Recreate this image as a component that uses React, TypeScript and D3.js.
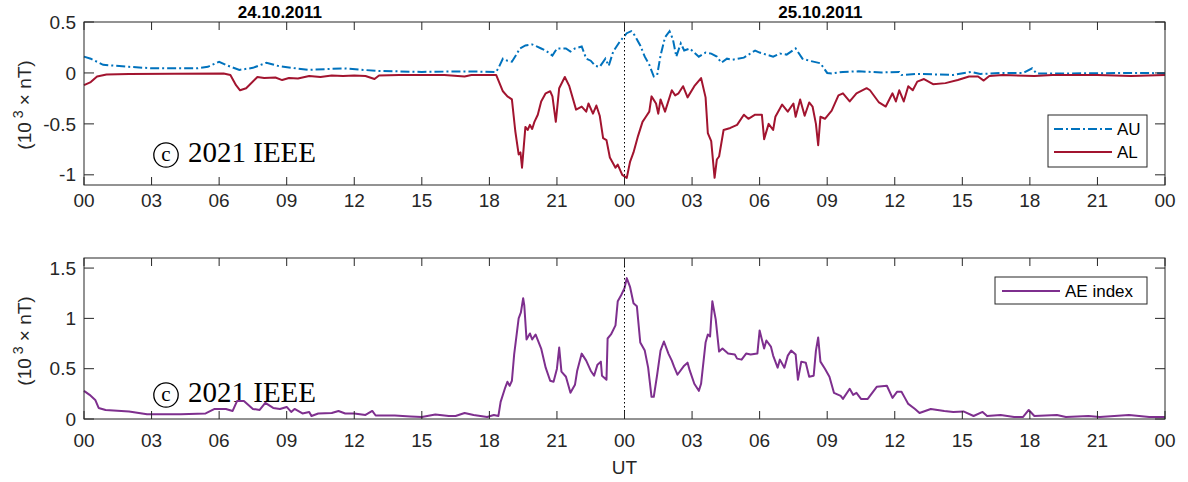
import * as d3 from 'd3';
import React from 'react';

// hours since 24.10.2011 00 UT, values in 10^3 nT
const auHours = [0, 0.3, 0.85, 2, 3, 5, 5.5, 6, 6.4, 6.9, 7.5, 8.1, 8.6, 9.2, 10, 11.5, 13, 15, 16, 17, 18.3, 18.4, 18.6, 18.8, 19, 19.2, 19.35, 19.6, 19.9, 20.1, 20.3, 20.5, 20.8, 21, 21.4, 21.6, 21.8, 22.1, 22.3, 22.5, 22.7, 22.9, 23.15, 23.3, 23.5, 23.8, 24.1, 24.3, 24.45, 24.7, 24.9, 25.1, 25.3, 25.45, 25.6, 25.8, 26, 26.15, 26.3, 26.5, 26.65, 26.9, 27.1, 27.3, 27.6, 27.85, 28.1, 28.3, 28.55, 28.8, 29.3, 29.8, 30, 30.3, 30.6, 30.9, 31.2, 31.6, 31.9, 32.2, 32.7, 33, 33.2, 33.7, 34.4, 35.4, 36.2, 36.3, 37, 38.6, 39.4, 39.8, 40.8, 41.7, 42.1, 42.3, 43.8, 46.7, 48];
const auValues = [0.16, 0.14, 0.08, 0.06, 0.046, 0.045, 0.06, 0.11, 0.07, 0.03, 0.05, 0.1, 0.07, 0.05, 0.03, 0.045, 0.02, 0.01, 0.013, 0.015, 0.01, 0.046, 0.14, 0.12, 0.11, 0.18, 0.24, 0.27, 0.28, 0.26, 0.24, 0.22, 0.17, 0.24, 0.24, 0.21, 0.24, 0.26, 0.14, 0.12, 0.07, 0.06, 0.14, 0.07, 0.21, 0.31, 0.39, 0.41, 0.37, 0.27, 0.16, 0.08, -0.035, -0.02, 0.17, 0.35, 0.41, 0.33, 0.16, 0.29, 0.22, 0.24, 0.2, 0.16, 0.2, 0.19, 0.16, 0.1, 0.14, 0.13, 0.15, 0.22, 0.2, 0.18, 0.16, 0.19, 0.18, 0.24, 0.14, 0.12, 0.095, 0, -0.005, 0.01, 0.016, 0.005, 0.01, -0.02, -0.01, -0.02, 0.01, -0.01, 0, 0, 0.045, -0.005, -0.005, 0, -0.003];

const alHours = [0, 0.3, 0.58, 1, 2, 4, 6.2, 6.5, 6.75, 6.93, 7.2, 7.7, 8, 8.5, 8.8, 9.1, 9.5, 10, 10.5, 11, 11.5, 12, 12.5, 12.9, 13.1, 14, 16, 16.9, 17.2, 18.3, 18.6, 18.8, 19, 19.15, 19.3, 19.38, 19.45, 19.6, 19.7, 19.8, 19.9, 20, 20.15, 20.3, 20.5, 20.7, 20.8, 20.95, 21.1, 21.35, 21.55, 21.85, 22.1, 22.3, 22.4, 22.6, 22.75, 22.9, 23.05, 23.2, 23.35, 23.6, 23.7, 23.9, 24.1, 24.25, 24.4, 24.6, 24.8, 24.95, 25.1, 25.2, 25.4, 25.5, 25.6, 25.8, 26.1, 26.25, 26.4, 26.6, 26.8, 27.1, 27.4, 27.6, 27.7, 27.85, 28, 28.1, 28.2, 28.4, 28.7, 29, 29.3, 29.5, 29.8, 30.1, 30.2, 30.4, 30.6, 30.7, 31, 31.25, 31.5, 31.6, 31.8, 32, 32.2, 32.35, 32.5, 32.6, 32.7, 32.9, 33.2, 33.5, 33.7, 34, 34.3, 34.75, 34.9, 35.3, 35.6, 35.9, 36.05, 36.2, 36.4, 36.6, 36.8, 37, 37.3, 37.7, 38.25, 38.8, 39.3, 39.7, 39.95, 40.2, 40.8, 42.2, 43, 45, 46.5, 48];
const alValues = [-0.12, -0.09, -0.035, -0.015, -0.01, -0.008, -0.005, -0.02, -0.12, -0.17, -0.15, -0.04, -0.05, -0.045, -0.07, -0.05, -0.055, -0.03, -0.04, -0.025, -0.03, -0.025, -0.03, -0.06, -0.025, -0.02, -0.02, -0.035, -0.02, -0.02, -0.18, -0.23, -0.26, -0.57, -0.8, -0.78, -0.93, -0.53, -0.56, -0.51, -0.55, -0.48, -0.41, -0.28, -0.2, -0.18, -0.23, -0.48, -0.15, -0.04, -0.13, -0.36, -0.33, -0.38, -0.3, -0.4, -0.32, -0.42, -0.64, -0.66, -0.83, -0.93, -0.9, -1.0, -1.03, -0.87, -0.78, -0.62, -0.48, -0.43, -0.38, -0.23, -0.3, -0.4, -0.26, -0.38, -0.17, -0.22, -0.2, -0.13, -0.24, -0.13, -0.05, -0.24, -0.59, -0.67, -1.03, -0.85, -0.82, -0.56, -0.54, -0.51, -0.41, -0.45, -0.41, -0.41, -0.65, -0.5, -0.56, -0.43, -0.31, -0.38, -0.3, -0.43, -0.26, -0.42, -0.29, -0.33, -0.5, -0.71, -0.43, -0.45, -0.37, -0.22, -0.2, -0.28, -0.2, -0.15, -0.17, -0.29, -0.33, -0.2, -0.28, -0.17, -0.28, -0.13, -0.17, -0.085, -0.06, -0.11, -0.1, -0.07, -0.035, -0.035, -0.075, -0.03, -0.02, -0.03, -0.02, -0.02, -0.03, -0.02];

const aeHours = [0, 0.25, 0.5, 0.65, 0.96, 2, 2.8, 4.3, 5.4, 5.8, 6, 6.3, 6.6, 6.8, 7.1, 7.5, 7.8, 8.05, 8.4, 8.7, 9, 9.2, 9.35, 9.7, 10, 10.1, 10.4, 11, 11.3, 11.6, 12, 12.5, 12.8, 12.95, 13.8, 14.5, 15, 15.6, 16.2, 16.5, 16.9, 17.3, 17.9, 18.2, 18.4, 18.5, 18.7, 18.8, 18.9, 19, 19.1, 19.3, 19.4, 19.5, 19.55, 19.65, 19.8, 19.9, 20.05, 20.3, 20.5, 20.7, 20.85, 21, 21.1, 21.2, 21.4, 21.6, 21.8, 21.9, 22.1, 22.3, 22.5, 22.65, 22.8, 22.95, 23, 23.2, 23.25, 23.4, 23.6, 23.7, 23.85, 24, 24.1, 24.25, 24.4, 24.55, 24.7, 24.9, 25.05, 25.2, 25.3, 25.45, 25.6, 25.75, 25.95, 26.1, 26.2, 26.35, 26.65, 26.8, 26.9, 27.1, 27.3, 27.4, 27.6, 27.7, 27.8, 27.9, 28.05, 28.2, 28.35, 28.6, 28.9, 29, 29.2, 29.4, 29.6, 29.9, 30, 30.2, 30.3, 30.5, 30.6, 30.8, 30.9, 31.1, 31.25, 31.4, 31.6, 31.7, 31.85, 32.05, 32.2, 32.4, 32.5, 32.6, 32.7, 32.9, 33.1, 33.3, 33.6, 33.7, 34, 34.15, 34.3, 34.5, 34.8, 35.2, 35.65, 35.9, 36.1, 36.3, 36.45, 36.6, 36.9, 37.1, 37.6, 38.2, 38.6, 39.05, 39.5, 39.9, 40.1, 40.7, 41.3, 41.7, 41.95, 42.2, 43.2, 43.6, 44.6, 45.1, 46.4, 47.3, 48];
const aeValues = [0.28, 0.24, 0.19, 0.11, 0.09, 0.075, 0.047, 0.047, 0.055, 0.1, 0.1, 0.1, 0.08, 0.18, 0.18, 0.1, 0.09, 0.16, 0.11, 0.1, 0.12, 0.07, 0.1, 0.055, 0.07, 0.03, 0.055, 0.06, 0.08, 0.055, 0.055, 0.04, 0.08, 0.035, 0.035, 0.025, 0.02, 0.045, 0.03, 0.03, 0.06, 0.04, 0.02, 0.04, 0.03, 0.17, 0.31, 0.37, 0.33, 0.38, 0.64, 1.0, 1.06, 1.2, 1.13, 0.79, 0.85, 0.79, 0.84, 0.7, 0.51, 0.38, 0.37, 0.5, 0.71, 0.47, 0.42, 0.26, 0.34, 0.48, 0.65, 0.58, 0.48, 0.43, 0.54, 0.57, 0.43, 0.39, 0.8, 0.84, 0.93, 1.17, 1.23, 1.3, 1.4, 1.31, 1.15, 1.12, 0.76, 0.68, 0.51, 0.22, 0.22, 0.44, 0.68, 0.77, 0.65, 0.58, 0.52, 0.44, 0.53, 0.56, 0.48, 0.35, 0.28, 0.35, 0.76, 0.84, 0.82, 1.17, 0.99, 0.67, 0.7, 0.65, 0.64, 0.6, 0.59, 0.65, 0.64, 0.65, 0.88, 0.7, 0.78, 0.72, 0.63, 0.51, 0.59, 0.51, 0.63, 0.68, 0.64, 0.39, 0.57, 0.56, 0.42, 0.43, 0.68, 0.81, 0.57, 0.5, 0.42, 0.26, 0.23, 0.2, 0.3, 0.24, 0.26, 0.2, 0.2, 0.32, 0.33, 0.21, 0.27, 0.27, 0.21, 0.15, 0.1, 0.06, 0.1, 0.08, 0.07, 0.075, 0.03, 0.07, 0.03, 0.04, 0.02, 0.02, 0.09, 0.03, 0.04, 0.02, 0.03, 0.02, 0.04, 0.02, 0.02];

const xTicks = [0, 3, 6, 9, 12, 15, 18, 21, 24, 27, 30, 33, 36, 39, 42, 45, 48];
const xTickLabels = ['00', '03', '06', '09', '12', '15', '18', '21', '00', '03', '06', '09', '12', '15', '18', '21', '00'];
const topYTicks = [-1, -0.5, 0, 0.5];
const bottomYTicks = [0, 0.5, 1, 1.5];
const dateLabels = ['24.10.2011', '25.10.2011'];
const dateLabelHours = [8.7, 32.7];

const AXIS = '#262626';
const FONT = '"Liberation Sans", Arial, Helvetica, sans-serif';
const SERIF = '"Liberation Serif", "DejaVu Serif", serif';
const AU_COLOR = '#0072BD';
const AL_COLOR = '#A2142F';
const AE_COLOR = '#7E2F8E';

const left = 84;
const right = 1165;

const x = d3.scaleLinear().domain([0, 48]).range([left, right]);

const zip = (hs: number[], vs: number[]) => hs.map((h, i) => [h, vs[i]] as [number, number]);

interface PanelProps {
  top: number;
  bottom: number;
  y: d3.ScaleLinear<number, number>;
  yTicks: number[];
  labelBaseline: number;
  children?: React.ReactNode;
}

const YLabel = ({ cx, cy }: { cx: number; cy: number }) => (
  <text
    transform={`translate(${cx},${cy}) rotate(-90)`}
    textAnchor="middle"
    fontFamily={FONT}
    fontSize={19}
    fill={AXIS}
  >
    (10
    <tspan dy={-8} fontSize={14}>
      {' 3'}
    </tspan>
    <tspan dy={8}>{' \u00d7 nT)'}</tspan>
  </text>
);

const Panel = ({ top, bottom, y, yTicks, labelBaseline, children }: PanelProps) => (
  <g>
    <rect x={left} y={top} width={right - left} height={bottom - top} fill="white" />
    {children}
    <line x1={x(24)} x2={x(24)} y1={top} y2={bottom} stroke="black" strokeWidth={1} strokeDasharray="1.5,2.5" />
    <rect x={left} y={top} width={right - left} height={bottom - top} fill="none" stroke={AXIS} strokeWidth={1} />
    {xTicks.map((t, i) => (
      <g key={`xt-${i}`}>
        <line x1={x(t)} x2={x(t)} y1={bottom} y2={bottom - 8} stroke={AXIS} />
        <line x1={x(t)} x2={x(t)} y1={top} y2={top + 8} stroke={AXIS} />
        <text x={x(t)} y={labelBaseline} textAnchor="middle" fontFamily={FONT} fontSize={19} fill={AXIS}>
          {xTickLabels[i]}
        </text>
      </g>
    ))}
    {yTicks.map((t) => (
      <g key={`yt-${t}`}>
        <line x1={left} x2={left + 10} y1={y(t)} y2={y(t)} stroke={AXIS} />
        <line x1={right} x2={right - 10} y1={y(t)} y2={y(t)} stroke={AXIS} />
        <text x={left - 8} y={y(t)} dy="0.35em" textAnchor="end" fontFamily={FONT} fontSize={19} fill={AXIS}>
          {String(t)}
        </text>
      </g>
    ))}
  </g>
);

// circled c drawn by hand, the font glyph is too small
const Copyright = ({ baseline }: { baseline: number }) => (
  <g>
    <circle cx={166} cy={baseline - 7} r={12.2} fill="none" stroke="black" strokeWidth={1.3} />
    <text x={166} y={baseline - 1.5} textAnchor="middle" fontFamily={SERIF} fontSize={21} fill="black">
      c
    </text>
    <text x={188} y={baseline} fontFamily={SERIF} fontSize={29} fill="black">
      2021 IEEE
    </text>
  </g>
);

const App: React.FC = () => {
  const yTop = d3.scaleLinear().domain([-1.1, 0.5]).range([185, 22]);
  const yBottom = d3.scaleLinear().domain([0, 1.6]).range([419, 258]);

  const lineTop = d3
    .line<[number, number]>()
    .x((d) => x(d[0]))
    .y((d) => yTop(d[1]));
  const lineBottom = d3
    .line<[number, number]>()
    .x((d) => x(d[0]))
    .y((d) => yBottom(d[1]));

  return (
    <svg
      width={1188}
      height={482}
      style={{ position: 'absolute', left: 0, top: 0, background: 'white' }}
    >
      <rect width={1188} height={482} fill="white" />

      {dateLabels.map((d, i) => (
        <text
          key={d}
          x={x(dateLabelHours[i])}
          y={18}
          textAnchor="middle"
          fontFamily={FONT}
          fontSize={17}
          fontWeight="bold"
          fill="black"
        >
          {d}
        </text>
      ))}

      <Panel top={22} bottom={185} y={yTop} yTicks={topYTicks} labelBaseline={207}>
        <Copyright baseline={162} />
        <path d={lineTop(zip(auHours, auValues)) || ''} fill="none" stroke={AU_COLOR} strokeWidth={2} strokeDasharray="9,3,2,3" />
        <path d={lineTop(zip(alHours, alValues)) || ''} fill="none" stroke={AL_COLOR} strokeWidth={2} strokeLinejoin="round" />
      </Panel>

      <g>
        <rect x={1048} y={115} width={99} height={52} fill="white" stroke={AXIS} strokeWidth={1} />
        <line x1={1054} x2={1112} y1={129} y2={129} stroke={AU_COLOR} strokeWidth={2} strokeDasharray="9,3,2,3" />
        <text x={1117} y={129} dy="0.35em" fontFamily={FONT} fontSize={17} fill="black">AU</text>
        <line x1={1054} x2={1112} y1={152} y2={152} stroke={AL_COLOR} strokeWidth={2} />
        <text x={1117} y={152} dy="0.35em" fontFamily={FONT} fontSize={17} fill="black">AL</text>
      </g>

      <Panel top={258} bottom={419} y={yBottom} yTicks={bottomYTicks} labelBaseline={447}>
        <Copyright baseline={402} />
        <path d={lineBottom(zip(aeHours, aeValues)) || ''} fill="none" stroke={AE_COLOR} strokeWidth={2} strokeLinejoin="round" />
      </Panel>

      <g>
        <rect x={995} y={277} width={152} height={27} fill="white" stroke={AXIS} strokeWidth={1} />
        <line x1={1002} x2={1060} y1={291} y2={291} stroke={AE_COLOR} strokeWidth={2} />
        <text x={1065} y={291} dy="0.35em" fontFamily={FONT} fontSize={17} fill="black">AE index</text>
      </g>

      <YLabel cx={31} cy={105} />
      <YLabel cx={31} cy={341} />

      <text x={x(24)} y={474} textAnchor="middle" fontFamily={FONT} fontSize={19} fill={AXIS}>
        UT
      </text>
    </svg>
  );
};

export default App;
